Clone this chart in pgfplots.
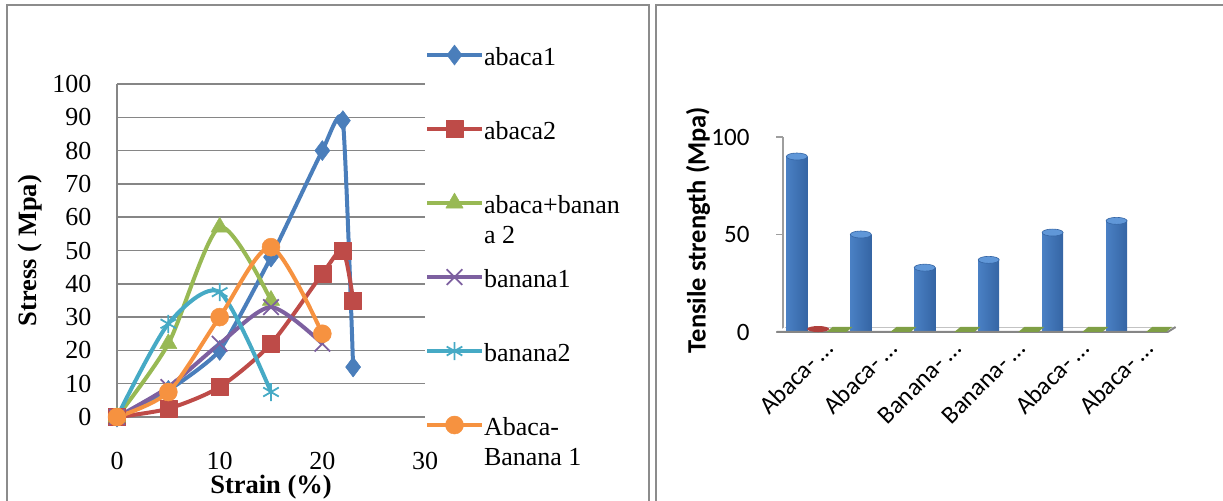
\documentclass[border=0pt]{standalone}
\usepackage{fontspec}
\setmainfont{Liberation Serif}
\newfontfamily\calibri{Carlito}
\usepackage{pgfplots}
\pgfplotsset{compat=1.18}
\definecolor{s1}{HTML}{4A7EBB}
\definecolor{s2}{HTML}{BE4B48}
\definecolor{s3}{HTML}{98B954}
\definecolor{s4}{HTML}{7D60A0}
\definecolor{s5}{HTML}{46AAC5}
\definecolor{s6}{HTML}{F69240}
\definecolor{gridg}{HTML}{868686}
\definecolor{panel}{HTML}{8C8C8C}
\definecolor{blA}{HTML}{4A80C4}
\definecolor{blB}{HTML}{6EA2E4}
\definecolor{blC}{HTML}{3565A4}
\definecolor{bltop}{HTML}{6097D8}
\definecolor{flg}{HTML}{7F9F45}
\definecolor{flr}{HTML}{B0403C}
\pgfdeclareplotmark{floorpatch}{%
  \pgfpathmoveto{\pgfqpoint{-13bp}{0bp}}%
  \pgfpathlineto{\pgfqpoint{7bp}{0bp}}%
  \pgfpathlineto{\pgfqpoint{13bp}{5bp}}%
  \pgfpathlineto{\pgfqpoint{-7bp}{5bp}}%
  \pgfpathclose\pgfusepathqfill}
\pgfdeclareplotmark{cyltop}{%
  \pgfpathellipse{\pgfpointorigin}{\pgfqpoint{10.5bp}{0bp}}{\pgfqpoint{0bp}{3.5bp}}%
  \pgfusepathqfillstroke}
\pgfdeclareplotmark{cylflat}{%
  \pgfpathellipse{\pgfqpoint{0bp}{2bp}}{\pgfqpoint{11bp}{0bp}}{\pgfqpoint{0bp}{3bp}}%
  \pgfusepathqfill}
\newcommand{\legtxt}[1]{\parbox[t]{165bp}{\rule{0pt}{24bp}#1}}
\pgfplotsset{cyl/.style={ybar, bar width=21bp, bar shift=0pt, draw=none,
  left color=blA, middle color=blB, right color=blC}}
\begin{document}
\begin{tikzpicture}
\path[use as bounding box] (0bp,0bp) rectangle (1223bp,501bp);
\draw[panel, line width=2bp] (7bp,0bp) |- (649bp,496bp) -- (649bp,0bp);
\draw[panel, line width=2bp] (656bp,0bp) |- (1223bp,496bp);

\begin{axis}[
  at={(117bp,84bp)}, anchor=south west, scale only axis,
  width=308bp, height=333bp,
  xmin=0, xmax=30, ymin=0, ymax=100,
  xtick={0,10,20,30}, ytick={0,10,...,100},
  axis x line*=bottom, axis y line*=left,
  axis line style={gridg, line width=1.5bp},
  major tick length=0pt,
  ymajorgrids, grid style={gridg, line width=1.5bp},
  tick label style={font=\fontsize{26bp}{30bp}\selectfont},
  /pgf/number format/assume math mode=true,
  xticklabel style={yshift=-32bp},
  yticklabel style={xshift=-22bp},
  xlabel={Strain (\%)}, ylabel={Stress ( Mpa)},
  label style={font=\bfseries\fontsize{26.5bp}{30bp}\selectfont},
  xlabel style={at={(axis description cs:0.5,-0.21)}, anchor=center},
  ylabel style={at={(axis description cs:-0.2825,0.5)}, anchor=center},
  clip=false,
  legend image code/.code={\draw[mark repeat=2,mark phase=2,#1,yshift=10bp] plot coordinates {(0bp,0bp)(27.5bp,0bp)(55bp,0bp)};},
  legend style={at={(axis description cs:1,1.129)}, anchor=north west, draw=none, fill=none,
    inner sep=0pt, outer sep=0pt, row sep={74bp,between origins}, column sep=0bp,
    nodes={inner sep=0pt, outer sep=0pt}, cells={anchor=base west},
    font=\fontsize{26bp}{30bp}\selectfont},
  every axis plot/.append style={line width=4bp, smooth, tension=0.45, line join=round},
]
\addplot[s1, tension=0.3, mark=diamond*, mark size=10bp, mark options={solid, line width=0.5bp}]
  coordinates {(0,0)(5,8)(10,20)(15,48)(20,80)(22,89)(23,15)};
\addlegendentry{\legtxt{abaca1}}
\addplot[s2, mark=square*, mark size=8.5bp, mark options={solid, line width=0.5bp}]
  coordinates {(0,0)(5,2.5)(10,9)(15,22)(20,43)(22,50)(23,35)};
\addlegendentry{\legtxt{abaca2}}
\addplot[s3, mark=triangle*, mark size=10bp, mark options={solid, line width=0.5bp}]
  coordinates {(0,0)(5,22)(10,57)(15,35)};
\addlegendentry{\legtxt{abaca+banan\\a 2}}
\addplot[s4, mark=x, mark size=11bp, mark options={solid, line width=1.8bp}]
  coordinates {(0,0)(5,9)(10,22)(15,33)(20,22)};
\addlegendentry{\legtxt{banana1}}
\addplot[s5, mark=asterisk, mark size=9bp, mark options={solid, line width=1.8bp}]
  coordinates {(0,0)(5,28)(10,37.5)(15,7.5)};
\addlegendentry{\legtxt{banana2}}
\addplot[s6, mark=*, mark size=9bp, mark options={solid, line width=0.5bp}]
  coordinates {(0,0)(5,7.5)(10,30)(15,51)(20,25)};
\addlegendentry{\legtxt{Abaca-\\Banana 1}}
\end{axis}

\begin{axis}[
  at={(783bp,169bp)}, anchor=south west, scale only axis,
  width=390bp, height=195bp,
  xmin=0.45, xmax=6.55, ymin=0, ymax=100, clip=false,
  axis y line*=left, axis x line*=bottom,
  x axis line style={draw=none},
  y axis line style={draw=gridg!80, line width=2bp},
  ytick={0,50,100}, xtick={1,...,6},
  xticklabels={Abaca- …,Abaca- …,Banana- …,Banana- …,Abaca- …,Abaca- …},
  xtick style={draw=none}, ytick style={draw=gridg!80, line width=1.5bp},
  tick align=outside, major tick length=7bp,
  tick label style={font=\calibri\fontsize{25bp}{29bp}\selectfont},
  /pgf/number format/assume math mode=true,
  yticklabel style={xshift=-23bp},
  xticklabel style={xshift=17bp, yshift=-11bp, rotate=45, anchor=base east, inner sep=0pt},
  xticklabel shift=0bp,
  ylabel={Tensile strength (Mpa)},
  ylabel style={font=\calibri\bfseries\fontsize{26.5bp}{30bp}\selectfont,
    at={(axis description cs:-0.218,0.523)}, anchor=center},
]
\fill[white] (axis cs:0.356,0) -- (axis cs:6.466,0) -- (axis cs:6.591,2.56) -- (axis cs:0.481,2.56) -- cycle;
\draw[gridg!50, line width=0.8bp] (axis cs:0.481,2.56) -- (axis cs:6.591,2.56);
\addplot[only marks, mark=floorpatch, color=flg]
  coordinates {(1.333,0)(2.333,0)(3.333,0)(4.333,0)(5.333,0)(6.333,0)};
\addplot[only marks, mark=cylflat, color=flr]
  coordinates {(1,0.5)};
\addplot[cyl] coordinates {(0.667,90)};
\addplot[cyl] coordinates {(1.667,50)};
\addplot[cyl] coordinates {(2.667,33)};
\addplot[cyl] coordinates {(3.667,37)};
\addplot[cyl] coordinates {(4.667,51)};
\addplot[cyl] coordinates {(5.667,57)};
\addplot[only marks, mark=cyltop, mark options={fill=bltop, draw=blC, line width=0.6bp}]
  coordinates {(0.667,90)(1.667,50)(2.667,33)(3.667,37)(4.667,51)(5.667,57)};
\draw[gridg, line width=2bp] (axis cs:0.356,0) -- (axis cs:6.466,0) -- (axis cs:6.591,2.56);
\end{axis}
\end{tikzpicture}
\end{document}
